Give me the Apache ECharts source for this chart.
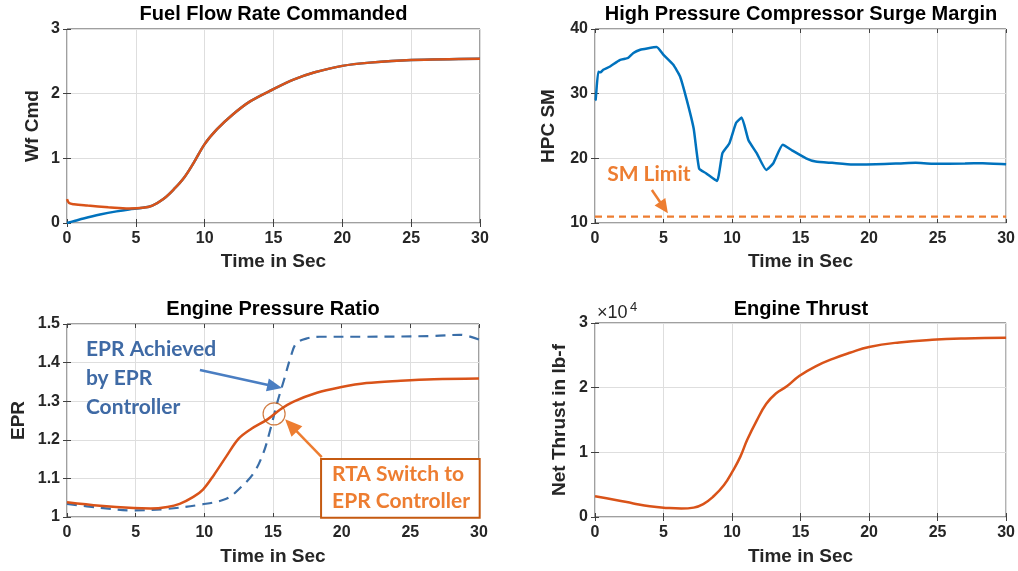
<!DOCTYPE html>
<html>
<head>
<meta charset="utf-8">
<script src="https://cdn.jsdelivr.net/npm/echarts@6/dist/echarts.min.js"></script>
<style>
  html, body { margin: 0; padding: 0; background: #ffffff; }
  #chart { width: 1018px; height: 571px; }
</style>
</head>
<body>
<div id="chart"></div>
<script>
// ---- Fuel flow rate commanded (Wf Cmd) ----
const wfTimeEpr = [0, 0.6, 1.2, 2.4, 3.6, 4.5, 5.5, 6.2, 7, 7.8, 8.5, 9.2, 10, 10.9, 12, 13.3, 15, 16.5, 18, 20, 22, 25, 30];
const wfCmdEpr  = [0, 0.035, 0.07, 0.13, 0.18, 0.21, 0.235, 0.27, 0.37, 0.53, 0.70, 0.93, 1.22, 1.45, 1.67, 1.88, 2.07, 2.22, 2.33, 2.43, 2.48, 2.52, 2.54];
const wfTimeRta = [0, 0.15, 0.5, 1.5, 3, 4.5, 5.5, 6.2, 7, 7.8, 8.5, 9.2, 10, 10.9, 12, 13.3, 15, 16.5, 18, 20, 22, 25, 30];
const wfCmdRta  = [0.37, 0.31, 0.29, 0.27, 0.245, 0.225, 0.235, 0.27, 0.37, 0.53, 0.70, 0.93, 1.22, 1.45, 1.67, 1.88, 2.07, 2.22, 2.33, 2.43, 2.48, 2.52, 2.54];

// ---- HPC surge margin ----
const hpcTime = [0, 0.05, 0.24, 0.4, 0.6, 1.1, 1.8, 2.2, 2.4, 2.8, 3.3, 3.8, 4.5, 5, 5.7, 6.2, 6.7, 7.2, 7.6, 8.1,
                 8.9, 9.3, 9.8, 10.3, 10.7, 11.2, 11.8, 12.5, 13, 13.7, 14.4, 15.4, 16.1, 17.3, 18.8, 19.8, 22.2, 23.4, 24.6, 27, 28.3, 30];
const hpcSm   = [29.0, 29.1, 33.4, 33.3, 33.7, 34.2, 35.2, 35.4, 35.5, 36.3, 36.8, 37.0, 37.2, 36.0, 34.5, 32.7, 29.0, 24.6, 18.4, 17.7,
                 16.5, 20.8, 22.3, 25.5, 26.3, 22.8, 20.8, 18.2, 19.2, 22.1, 21.2, 20.0, 19.5, 19.3, 19.05, 19.05, 19.2, 19.3, 19.15, 19.2, 19.25, 19.1];
const smLimit = 11;

// ---- Engine pressure ratio ----
const eprTimeRta = [0, 2.4, 4.85, 6.1, 7.3, 8.2, 9.2, 9.9, 10.7, 11.6, 12.5, 13.4, 14.6, 15.5, 16.5, 18.2, 19.9, 21.8, 24.3, 26.7, 30];
const eprRta     = [1.038, 1.029, 1.023, 1.022, 1.026, 1.034, 1.052, 1.071, 1.109, 1.157, 1.203, 1.228, 1.253, 1.278, 1.299, 1.322, 1.336, 1.347, 1.353, 1.357, 1.359];
const eprTimeEpr = [0, 2.4, 4.85, 7.3, 9.7, 11.6, 12.6, 13.6, 14.3, 14.8, 15.3, 15.8, 16.3, 16.7, 17.5, 18.4, 21.8, 26.7, 28.6, 30];
const eprEpr     = [1.034, 1.024, 1.017, 1.021, 1.032, 1.047, 1.075, 1.114, 1.166, 1.226, 1.295, 1.355, 1.416, 1.45, 1.463, 1.467, 1.467, 1.469, 1.472, 1.46];
const switchTime = 15.08;
const switchEpr  = 1.267;

// ---- Net thrust (lb-f) ----
const thrustTime = [0, 1.6, 2.8, 4, 5.25, 6.3, 7.2, 7.9, 8.6, 9.4, 10.1, 10.6, 11.1, 11.8, 12.5, 13.2, 14, 14.9, 16.1, 17.4, 18.6, 20, 22.2, 24.6, 27, 30];
const thrust     = [3200, 2600, 2100, 1650, 1400, 1300, 1450, 2000, 3100, 4900, 7300, 9300, 11900, 14900, 17500, 19100, 20200, 21800, 23300, 24500, 25400, 26300, 27000, 27400, 27600, 27700];

// ---- Text ----
const panelTitles = ['Fuel Flow Rate Commanded', 'High Pressure Compressor Surge Margin', 'Engine Pressure Ratio', 'Engine Thrust'];
const yNames = ['Wf Cmd', 'HPC SM', 'EPR', 'Net Thrust in lb-f'];
const xName = 'Time in Sec';

const zip = (xs, ys) => xs.map((x, i) => [x, ys[i]]);

const FONT = '"Liberation Sans", Arial, Helvetica, sans-serif';
const NOTE_FONT = 'Lato, "Open Sans", sans-serif';
const BLUE = '#0072BD';
const ORANGE = '#D95319';
const TXT = '#262626';
const FRAME = '#404040';

const grids = [
  { left: 67,  top: 29,  width: 413, height: 194 },
  { left: 595, top: 29,  width: 412, height: 194 },
  { left: 67,  top: 324, width: 412, height: 193 },
  { left: 595, top: 323, width: 412, height: 194 }
];
const yRanges = [
  { min: 0, max: 3, interval: 1 },
  { min: 10, max: 40, interval: 10 },
  { min: 1, max: 1.5, interval: 0.1 },
  { min: 0, max: 30000, interval: 10000 }
];
const yNameGaps = [25, 37, 39, 26];

const xAxes = [], yAxes = [];
grids.forEach((g, i) => {
  xAxes.push({
    gridIndex: i, type: 'value', min: 0, max: 30, interval: 5, position: 'bottom',
    name: xName, nameLocation: 'middle', nameGap: i < 2 ? 29 : 30,
    nameTextStyle: { fontFamily: FONT, fontWeight: 'bold', fontSize: 19, color: TXT },
    axisLine: { show: false },
    axisTick: { inside: true, length: 4, lineStyle: { color: FRAME } },
    axisLabel: { fontFamily: FONT, fontWeight: 'bold', fontSize: 16, color: TXT, margin: 8 },
    splitLine: { show: true, lineStyle: { color: '#dedede', width: 1 } }
  });
  yAxes.push({
    gridIndex: i, type: 'value', min: yRanges[i].min, max: yRanges[i].max, interval: yRanges[i].interval, position: 'left',
    name: yNames[i], nameLocation: 'middle', nameGap: yNameGaps[i],
    nameTextStyle: { fontFamily: FONT, fontWeight: 'bold', fontSize: 19, color: TXT },
    axisLine: { show: false },
    axisTick: { inside: true, length: 4, lineStyle: { color: FRAME } },
    axisLabel: {
      fontFamily: FONT, fontWeight: 'bold', fontSize: 16, color: TXT, margin: 7,
      formatter: i === 3 ? (v => String(v / 10000)) : null
    },
    splitLine: { show: true, lineStyle: { color: '#dedede', width: 1 } }
  });
});
// companion axes on the top and right edges carry the box ticks
grids.forEach((g, i) => {
  xAxes.push({
    gridIndex: i, type: 'value', min: 0, max: 30, interval: 5, position: 'top',
    axisLine: { show: false }, axisLabel: { show: false }, splitLine: { show: false },
    axisTick: { inside: true, length: 4, lineStyle: { color: FRAME } }
  });
  yAxes.push({
    gridIndex: i, type: 'value', min: yRanges[i].min, max: yRanges[i].max, interval: yRanges[i].interval, position: 'right',
    axisLine: { show: false }, axisLabel: { show: false }, splitLine: { show: false },
    axisTick: { inside: true, length: 4, lineStyle: { color: FRAME } }
  });
});

const titleCenters = [
  [grids[0].left + grids[0].width / 2, 4],
  [grids[1].left + grids[1].width / 2, 4],
  [grids[2].left + grids[2].width / 2, 299],
  [grids[3].left + grids[3].width / 2, 299]
];

const lineSeries = (name, data, axis, color, extra) => Object.assign({
  name, type: 'line', data, xAxisIndex: axis, yAxisIndex: axis,
  showSymbol: false, smooth: 0.35, animation: false,
  lineStyle: { color, width: 2.5 }, itemStyle: { color }
}, extra || {});

const option = {
  animation: false,
  backgroundColor: '#ffffff',
  title: panelTitles.map((t, i) => ({
    text: t, left: titleCenters[i][0], top: titleCenters[i][1], textAlign: 'center', padding: 0,
    textStyle: { fontFamily: FONT, fontWeight: 'bold', fontSize: 20, color: '#000000' }
  })),
  grid: grids.map(g => Object.assign({ show: true, borderColor: FRAME, borderWidth: 1, backgroundColor: '#ffffff' }, g)),
  xAxis: xAxes,
  yAxis: yAxes,
  series: [
    lineSeries('Wf Cmd EPR', zip(wfTimeEpr, wfCmdEpr), 0, BLUE),
    lineSeries('Wf Cmd RTA', zip(wfTimeRta, wfCmdRta), 0, ORANGE),
    lineSeries('HPC SM', zip(hpcTime, hpcSm), 1, BLUE, { smooth: 0.15 }),
    lineSeries('SM Limit', [[0, smLimit], [30, smLimit]], 1, '#ED7D31',
      { smooth: false, lineStyle: { color: '#ED7D31', width: 2.2, type: [7, 5] } }),
    lineSeries('EPR Achieved', zip(eprTimeEpr, eprEpr), 2, '#3A6EA8',
      { lineStyle: { color: '#3A6EA8', width: 2.2, type: [10, 7] } }),
    lineSeries('EPR RTA', zip(eprTimeRta, eprRta), 2, ORANGE),
    {
      name: 'Switch', type: 'scatter', xAxisIndex: 2, yAxisIndex: 2,
      data: [[switchTime, switchEpr]], symbol: 'circle', symbolSize: 22, z: 5,
      itemStyle: { color: 'rgba(0,0,0,0)', borderColor: '#C55A11', borderWidth: 1.2 }
    },
    lineSeries('Net Thrust', zip(thrustTime, thrust), 3, ORANGE, { smooth: 0.45 })
  ]
};

const chart = echarts.init(document.getElementById('chart'), null, { renderer: 'canvas' });
chart.setOption(option);

// ---- annotations placed through the axis scales ----
const px = (axis, x, y) => chart.convertToPixel({ xAxisIndex: axis, yAxisIndex: axis }, [x, y]);

function arrow(p0, p1, color, headLen, headW, lw) {
  const dx = p1[0] - p0[0], dy = p1[1] - p0[1];
  const L = Math.hypot(dx, dy), ux = dx / L, uy = dy / L;
  const bx = p1[0] - ux * headLen, by = p1[1] - uy * headLen;
  const nx = -uy, ny = ux;
  return [
    { type: 'line', z: 100, shape: { x1: p0[0], y1: p0[1], x2: bx + ux * 2, y2: by + uy * 2 },
      style: { stroke: color, lineWidth: lw } },
    { type: 'polygon', z: 100, shape: { points: [[p1[0], p1[1]], [bx + nx * headW / 2, by + ny * headW / 2], [bx - nx * headW / 2, by - ny * headW / 2]] },
      style: { fill: color } }
  ];
}

const smText = px(1, 3.93, 17.6);
const epText = px(2, 1.38, 1.473);
const boxTL = px(2, 18.5, 1.150);
const boxBR = px(2, 30.05, 0.998);

const graphics = [];
graphics.push({ type: 'text', z: 100, x: smText[0], y: smText[1],
  style: { text: 'SM Limit', fill: '#ED7D31', font: 'bold 21px ' + NOTE_FONT, align: 'center', verticalAlign: 'middle' } });
graphics.push(...arrow(px(1, 4.15, 15.1), px(1, 5.32, 11.5), '#ED7D31', 14, 13, 2.5));

graphics.push({ type: 'text', z: 100, x: epText[0], y: epText[1],
  style: { text: 'EPR Achieved\nby EPR\nController', fill: '#3F6AA5', font: 'bold 21px ' + NOTE_FONT,
    lineHeight: 29, align: 'left', verticalAlign: 'top' } });
graphics.push(...arrow(px(2, 9.68, 1.381), px(2, 15.66, 1.334), '#4A7EC2', 15, 13, 2.5));

graphics.push({ type: 'rect', z: 100,
  shape: { x: boxTL[0], y: boxTL[1], width: boxBR[0] - boxTL[0], height: boxBR[1] - boxTL[1] },
  style: { fill: '#ffffff', stroke: '#C55A11', lineWidth: 2 } });
graphics.push({ type: 'text', z: 101, x: boxTL[0] + 11, y: boxTL[1] + 2,
  style: { text: 'RTA Switch to\nEPR Controller', fill: '#ED7D31', font: 'bold 21px ' + NOTE_FONT,
    lineHeight: 27, align: 'left', verticalAlign: 'top' } });
graphics.push(...arrow(px(2, 18.55, 1.155), px(2, 15.88, 1.253), '#ED7D31', 17, 15, 2.5));

// exponent label for the thrust axis
graphics.push({ type: 'text', z: 100, x: grids[3].left + 2, y: grids[3].top - 1,
  style: { text: '\u00d710', fill: TXT, font: '18px ' + FONT, align: 'left', verticalAlign: 'bottom' } });
graphics.push({ type: 'text', z: 100, x: grids[3].left + 35, y: grids[3].top - 9,
  style: { text: '4', fill: TXT, font: '13px ' + FONT, align: 'left', verticalAlign: 'bottom' } });

chart.setOption({ graphic: graphics });
</script>
</body>
</html>
